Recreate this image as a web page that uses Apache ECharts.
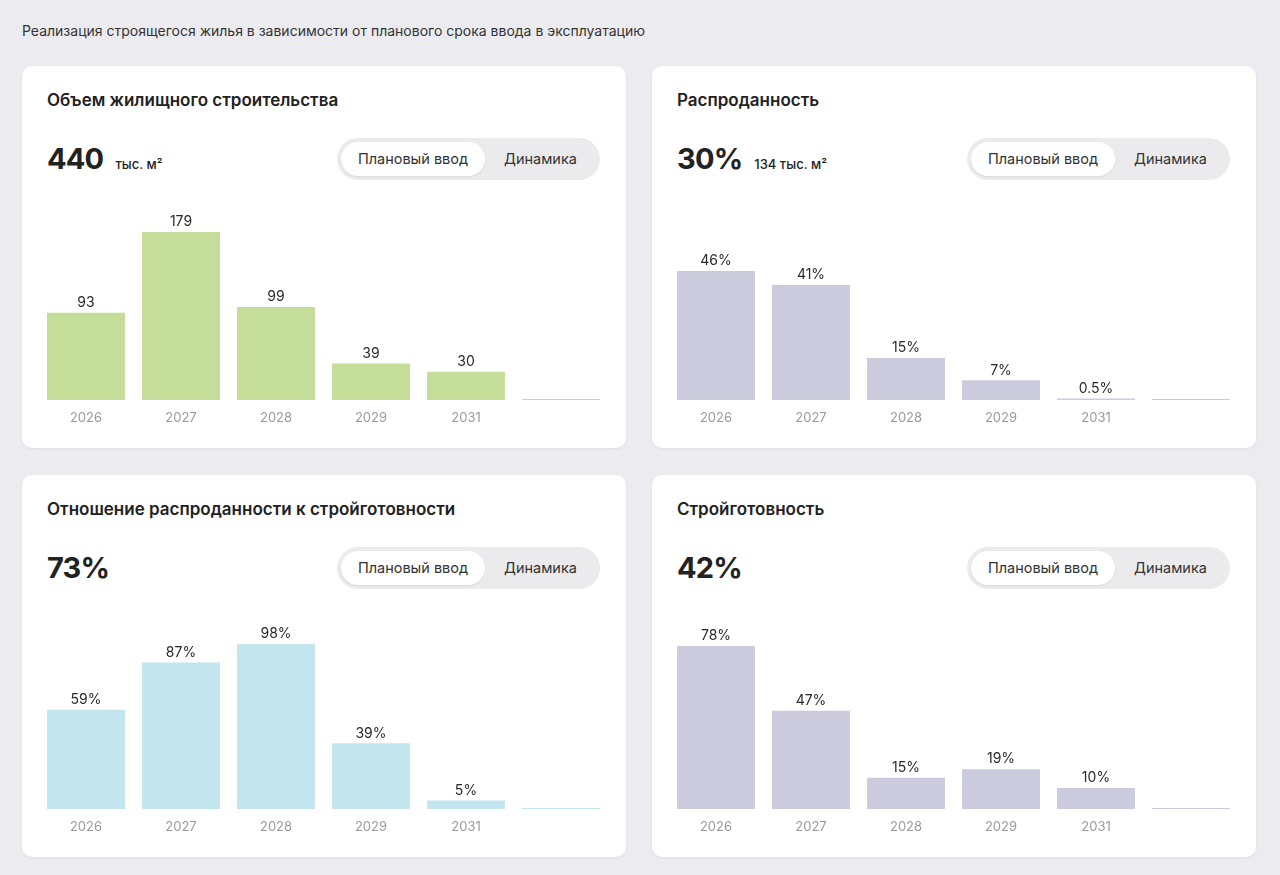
<!DOCTYPE html>
<html lang="ru">
<head>
<meta charset="utf-8">
<script src="https://cdn.jsdelivr.net/npm/echarts@6/dist/echarts.min.js"></script>
<style>
  html, body { margin:0; padding:0; }
  body { width:1280px; height:875px; background:#ececf0; font-family: Inter, "Noto Sans", "DejaVu Sans", sans-serif; color:#222; position:relative; overflow:hidden; }
  .header { position:absolute; left:22px; top:22px; font-size:14px; color:#333; letter-spacing:0; }
  .card { position:absolute; width:604px; height:382px; background:#fff; border-radius:10px; box-shadow:0 1px 3px rgba(0,0,0,0.06); }
  .title { position:absolute; left:25px; top:24px; font-size:17px; font-weight:600; color:#222; letter-spacing:0; }
  .big { position:absolute; left:25px; top:75px; font-size:29px; font-weight:700; color:#222; letter-spacing:-0.8px; }
  .unit { font-size:13px; font-weight:500; margin-left:12px; letter-spacing:0; color:#222; }
  .toggle { position:absolute; left:315px; top:72px; width:263px; height:42px; border-radius:21px; background:#ebebee; }
  .toggle .on { position:absolute; left:4px; top:4px; width:144px; height:34px; border-radius:17px; background:#fff; box-shadow:0 1px 2px rgba(0,0,0,0.08); font-size:14.5px; color:#333; line-height:34px; text-align:center; }
  .toggle .off { position:absolute; left:148px; top:4px; width:111px; height:34px; font-size:14.5px; color:#333; line-height:34px; text-align:center; }
  .chart { position:absolute; left:0; top:120px; width:604px; height:262px; }
</style>
</head>
<body>
<div class="header">Реализация строящегося жилья в зависимости от планового срока ввода в эксплуатацию</div>

<div class="card" style="left:22px; top:66px;">
  <div class="title">Объем жилищного строительства</div>
  <div class="big">440<span class="unit">тыс. м²</span></div>
  <div class="toggle"><div class="on">Плановый ввод</div><div class="off">Динамика</div></div>
  <div class="chart" id="c1"></div>
</div>

<div class="card" style="left:652px; top:66px;">
  <div class="title">Распроданность</div>
  <div class="big">30%<span class="unit">134 тыс. м²</span></div>
  <div class="toggle"><div class="on">Плановый ввод</div><div class="off">Динамика</div></div>
  <div class="chart" id="c2"></div>
</div>

<div class="card" style="left:22px; top:475px;">
  <div class="title">Отношение распроданности к стройготовности</div>
  <div class="big">73%</div>
  <div class="toggle"><div class="on">Плановый ввод</div><div class="off">Динамика</div></div>
  <div class="chart" id="c3"></div>
</div>

<div class="card" style="left:652px; top:475px;">
  <div class="title">Стройготовность</div>
  <div class="big">42%</div>
  <div class="toggle"><div class="on">Плановый ввод</div><div class="off">Динамика</div></div>
  <div class="chart" id="c4"></div>
</div>

<script>
// Data
const years = ['2026', '2027', '2028', '2029', '2031', ''];
const volume = [93, 179, 99, 39, 30, 0];          // тыс. м²
const soldShare = [46, 41, 15, 7, 0.5, 0];        // %
const soldToReadiness = [59, 87, 98, 39, 5, 0];   // %
const readiness = [78, 47, 15, 19, 10, 0];        // %

function makeChart(id, values, color, yMax, suffix) {
  const chart = echarts.init(document.getElementById(id), null, { renderer: 'canvas' });
  chart.setOption({
    animation: false,
    grid: { left: 16.5, right: 17.5, top: 14, bottom: 48 },
    xAxis: {
      type: 'category',
      data: years,
      axisLine: { show: false },
      axisTick: { show: false },
      axisLabel: { color: '#9a9a9e', fontSize: 13, margin: 12, fontFamily: 'Inter, "Noto Sans", sans-serif' }
    },
    yAxis: {
      type: 'value', min: 0, max: yMax,
      show: false, splitLine: { show: false }
    },
    series: [{
      type: 'bar',
      data: values,
      barCategoryGap: '18%',
      barMinHeight: 1,
      itemStyle: { color: color },
      label: {
        show: true, position: 'top', distance: 3,
        color: '#2a2a2a', fontSize: 14, fontFamily: 'Inter, "Noto Sans", sans-serif',
        formatter: p => (p.value === 0 ? '' : p.value + suffix)
      }
    }]
  });
}

makeChart('c1', volume, '#c4dd99', 213.1, '');
makeChart('c2', soldShare, '#cbcbdd', 71.3, '%');
makeChart('c3', soldToReadiness, '#c3e5ee', 118.8, '%');
makeChart('c4', readiness, '#cbcbdd', 95.7, '%');
</script>
</body>
</html>
